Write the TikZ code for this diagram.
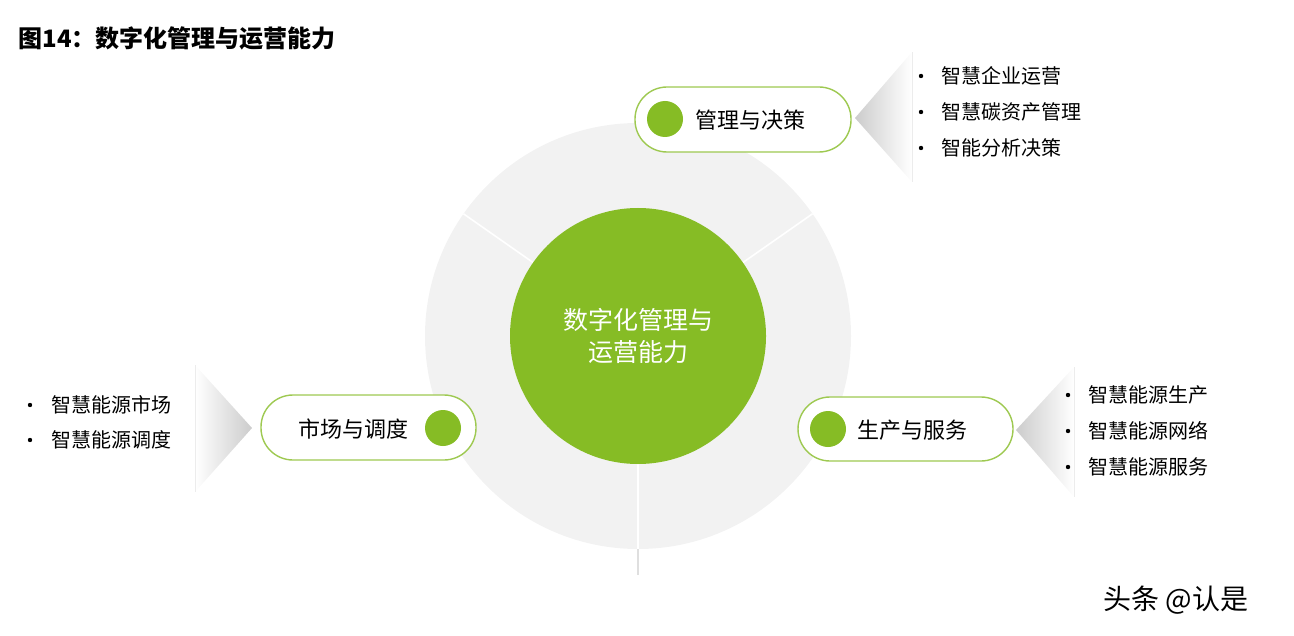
\documentclass[tikz,border=0pt]{standalone}
\usepackage{fontspec}
\usetikzlibrary{calc}
\setmainfont{Noto Sans CJK SC}
\definecolor{leaf}{HTML}{86BC25}
\definecolor{disc}{HTML}{F2F2F2}
\begin{document}
\begin{tikzpicture}[x=0.5pt,y=-0.5pt,
  pill/.style={draw=leaf!80,line width=0.7pt,fill=white,rounded corners=16pt},
  dot/.style={circle,fill=leaf,minimum size=18pt,inner sep=0},
  lbl/.style={font=\fontsize{11}{13}\selectfont,anchor=center},
  item/.style={font=\fontsize{10}{12}\selectfont,anchor=west,inner sep=0},
  sep/.style={white,line width=0.8pt}]
\useasboundingbox (0,0) rectangle (1294,636);
\node[font=\bfseries\fontsize{12}{14}\selectfont,anchor=west,inner sep=0] (title) at (18,38) {图14：数字化管理与运营能力};
% disc
\fill[disc] (638,336) circle (213);
\coordinate (c) at (638,336);
\draw[sep] ($(c)+(-145:128)$) -- ($(c)+(-145:213)$);
\draw[sep] ($(c)+(-35:128)$) -- ($(c)+(-35:213)$);
\draw[sep] ($(c)+(90:128)$) -- ($(c)+(90:213)$);
\coordinate (tail) at (638,575);
\draw[gray!25,line width=0.8pt] ($(c)+(90:213)$) -- (tail);
\node[circle,fill=leaf,minimum size=128pt,inner sep=0,text=white,align=center,font=\fontsize{12.5}{16}\selectfont] (core) at (c) {数字化管理与\\运营能力};
% gradient triangles
\shade[left color=gray!40,right color=white] (855,118)--(912,52)--(912,182)--cycle;
\draw[gray!15] (912,52)--(912,182);
\shade[right color=gray!40,left color=white] (252,428)--(195,365)--(195,492)--cycle;
\draw[gray!15] (195,365)--(195,492);
\shade[left color=gray!40,right color=white] (1016,430)--(1074,367)--(1074,497)--cycle;
\draw[gray!15] (1074,367)--(1074,497);
% pills
\draw[pill] (635,87) rectangle (851,152);
\node[dot] (d1) at (665,119) {};
\node[lbl] (t1) at (750,120) {管理与决策};
\draw[pill] (261,395) rectangle (476,460);
\node[dot] (d2) at (443,428) {};
\node[lbl] (t2) at (353,429) {市场与调度};
\draw[pill] (798,397) rectangle (1013,461);
\node[dot] (d3) at (828,429) {};
\node[lbl] (t3) at (912,430) {生产与服务};
% bullets
\foreach \y/\t [count=\i] in {76/智慧企业运营,112/智慧碳资产管理,148/智能分析决策}{
  \fill (921,\y) circle (2.2);
  \node[item] (a\i) at (941,\y) {\t};}
\foreach \y/\t [count=\i] in {405/智慧能源市场,440/智慧能源调度}{
  \fill (30,\y) circle (2.2);
  \node[item] (b\i) at (51,\y) {\t};}
\foreach \y/\t [count=\i] in {395/智慧能源生产,431/智慧能源网络,467/智慧能源服务}{
  \fill (1068,\y) circle (2.2);
  \node[item] (r\i) at (1088,\y) {\t};}
\node[font=\fontsize{14}{16}\selectfont,anchor=west,inner sep=0] (wm) at (1103,600) {头条 @认是};
\end{tikzpicture}
\end{document}
